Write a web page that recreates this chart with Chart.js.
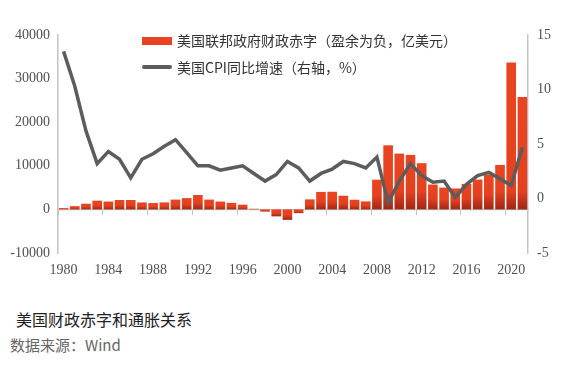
<!DOCTYPE html>
<html>
<head>
<meta charset="utf-8">
<script src="https://cdn.jsdelivr.net/npm/chart.js@4/dist/chart.umd.min.js"></script>
<style>
  html, body { margin: 0; padding: 0; background: #ffffff; }
  body { width: 562px; height: 372px; position: relative; overflow: hidden; }
  #wrap { position: absolute; left: 0; top: 0; width: 562px; height: 290px; }
  .leg { position: absolute; font-family: "Noto Sans CJK SC", sans-serif; font-size: 14px; color: #333; white-space: nowrap; line-height: 16px; }
  .sw { position: absolute; }
  #title { position: absolute; left: 16px; top: 307px; font-family: "Noto Sans CJK SC", sans-serif; font-size: 16px; color: #222; white-space: nowrap; }
  #src { position: absolute; left: 10px; top: 334px; font-family: "Noto Sans CJK SC", sans-serif; font-size: 15px; color: #666; white-space: nowrap; }
</style>
</head>
<body>
<div id="wrap"><canvas id="c"></canvas></div>
<div class="sw" id="sw1" style="left:142px; top:37px; width:30px; height:8px;"></div>
<div class="leg" style="left:177px; top:32px;">美国联邦政府财政赤字（盈余为负，亿美元）</div>
<div class="sw" id="sw2" style="left:142px; top:65px; width:30px; height:4px; border-radius:2px;"></div>
<div class="leg" style="left:177px; top:59px;">美国CPI同比增速（右轴，%）</div>
<div id="title">美国财政赤字和通胀关系</div>
<div id="src">数据来源：Wind</div>
<script>
const years = ['1980','1981','1982','1983','1984','1985','1986','1987','1988','1989',
  '1990','1991','1992','1993','1994','1995','1996','1997','1998','1999',
  '2000','2001','2002','2003','2004','2005','2006','2007','2008','2009',
  '2010','2011','2012','2013','2014','2015','2016','2017','2018','2019',
  '2020','2021'];
const deficit = [300, 750, 1300, 2000, 1800, 2150, 2150, 1600, 1450, 1600,
  2250, 2600, 3300, 2250, 1800, 1500, 1080, 150, -500, -1600,
  -2400, -850, 2300, 4000, 4050, 3140, 2220, 1840, 6820, 14700,
  12800, 12500, 10600, 5700, 5000, 4800, 5850, 6850, 8000, 10200,
  33700, 25800];
const cpi = [13.5, 10.3, 6.2, 3.2, 4.3, 3.6, 1.9, 3.6, 4.1, 4.8,
  5.4, 4.2, 3.0, 3.0, 2.6, 2.8, 3.0, 2.3, 1.6, 2.2,
  3.4, 2.8, 1.6, 2.3, 2.7, 3.4, 3.2, 2.8, 3.8, -0.4,
  1.6, 3.2, 2.1, 1.5, 1.6, 0.1, 1.3, 2.1, 2.4, 1.8,
  1.2, 4.7];
const leftTicks = [-10000, 0, 10000, 20000, 30000, 40000];
const rightTicks = [-5, 0, 5, 10, 15];
const seriesNames = ['美国联邦政府财政赤字（盈余为负，亿美元）', '美国CPI同比增速（右轴，%）'];

const barTop = '#ea4522', barMid = '#e5411f', barBot = '#a02616';
const lineColor = '#5c5c5c';
const axisColor = '#c4c4c4';
const tickColor = '#505050';

document.getElementById('sw1').style.background = 'linear-gradient(' + barTop + ',' + barMid + ')';
document.getElementById('sw2').style.background = lineColor;

function barFill(ctx) {
  if (ctx.type !== 'data') return barTop;
  const chart = ctx.chart;
  const ys = chart.scales.y;
  if (!ys || !chart.chartArea) return barTop;
  const p1 = ys.getPixelForValue(ctx.raw), p0 = ys.getPixelForValue(0);
  const top = Math.min(p0, p1), bot = Math.max(p0, p1);
  if (bot - top < 2) return barMid;
  const g = chart.ctx.createLinearGradient(0, top, 0, bot);
  const h = bot - top;
  const darkStart = Math.max(0.55, 1 - 18 / h);
  g.addColorStop(0, barTop);
  g.addColorStop(darkStart, barMid);
  g.addColorStop(1, barBot);
  return g;
}

const serif = { family: '"Liberation Serif", "DejaVu Serif", serif', size: 14 };

new Chart(document.getElementById('c'), {
  data: {
    labels: years,
    datasets: [
      { type: 'line', label: seriesNames[1], data: cpi, yAxisID: 'y1', xAxisID: 'x',
        borderColor: lineColor, borderWidth: 3.5, pointRadius: 0, tension: 0, order: 0,
        borderJoinStyle: 'miter' },
      { type: 'bar', label: seriesNames[0], data: deficit, yAxisID: 'y', xAxisID: 'x',
        backgroundColor: barFill, borderWidth: 0, barPercentage: 0.86, categoryPercentage: 1.0, order: 1 }
    ]
  },
  options: {
    responsive: true, maintainAspectRatio: false, animation: false,
    layout: { padding: { top: 35, left: 0, right: 0, bottom: 0 } },
    plugins: { legend: { display: false }, tooltip: { enabled: false } },
    scales: {
      x: {
        type: 'category', position: 'bottom', offset: true,
        grid: { display: false, drawTicks: false }, border: { display: false },
        ticks: { autoSkip: false, maxRotation: 0, color: tickColor, font: serif, padding: 9,
          callback: (v, i) => (i % 4 === 0 ? years[i] : '') },
        afterFit: (s) => { s.height = 37; }
      },
      x2: {
        type: 'category', labels: years, position: { y: 0 }, offset: true,
        grid: { display: true, drawOnChartArea: false, drawTicks: true, tickLength: 5, offset: true,
          color: (c) => (c.index % 4 === 0 ? axisColor : 'rgba(0,0,0,0)') },
        border: { display: true, color: axisColor, width: 1.2 },
        ticks: { display: false }
      },
      y: {
        position: 'left', min: -10000, max: 40000,
        afterBuildTicks: (s) => { s.ticks = leftTicks.map(v => ({ value: v })); },
        grid: { display: false, drawTicks: false },
        border: { display: true, color: axisColor, width: 1.5 },
        ticks: { color: tickColor, font: serif, padding: 8, callback: (v) => String(v) },
        afterFit: (s) => { s.width = 58; }
      },
      y1: {
        position: 'right', min: -5, max: 15,
        afterBuildTicks: (s) => { s.ticks = rightTicks.map(v => ({ value: v })); },
        grid: { display: false, drawTicks: false },
        border: { display: true, color: axisColor, width: 1.5 },
        ticks: { color: tickColor, font: serif, padding: 9, callback: (v) => String(v) },
        afterFit: (s) => { s.width = 34; }
      }
    }
  }
});
</script>
</body>
</html>
